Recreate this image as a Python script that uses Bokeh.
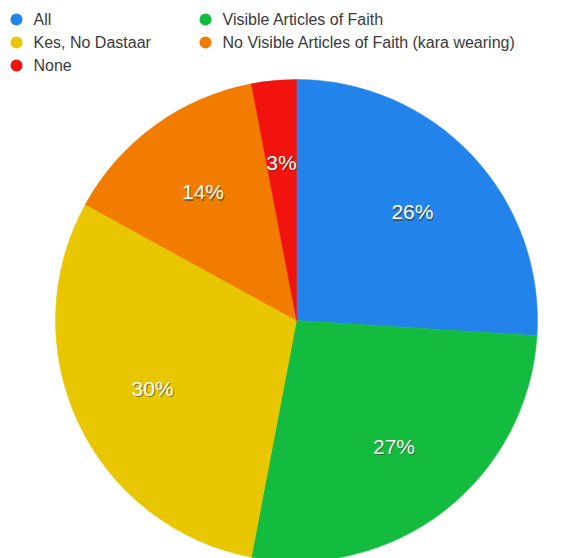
import numpy as np
from bokeh.plotting import figure
from bokeh.models import Range1d, ColumnDataSource
from bokeh.core.properties import value
from bokeh.embed import file_html
from bokeh.resources import INLINE

categories = ["All", "Visible Articles of Faith", "Kes, No Dastaar",
              "No Visible Articles of Faith (kara wearing)", "None"]
shares = [26, 27, 30, 14, 3]
labels = ["26%", "27%", "30%", "14%", "3%"]
colors = ["#2284ea", "#13bc3e", "#e8c600", "#f17c00", "#f2120e"]

W, H = 582, 558
p = figure(width=W, height=H, output_backend="svg", toolbar_location=None,
           x_range=Range1d(0, W), y_range=Range1d(0, H), min_border=0)
p.axis.visible = False
p.grid.visible = False
p.outline_line_color = None
p.background_fill_color = "white"

cx, cy, r = 296, H - 320, 241
vals = np.array(shares, dtype=float)
frac = vals / vals.sum()
cum = np.concatenate([[0], np.cumsum(frac)])
start = np.pi / 2 - cum[:-1] * 2 * np.pi
end = np.pi / 2 - cum[1:] * 2 * np.pi
mid = (start + end) / 2
src = ColumnDataSource(dict(start=start, end=end, color=colors,
                            lx=cx + 0.66 * r * np.cos(mid),
                            ly=cy + 0.66 * r * np.sin(mid),
                            label=labels))
p.wedge(x=cx, y=cy, radius=r, start_angle="start", end_angle="end",
        direction="clock", fill_color="color", line_color="color", line_width=0.5,
        source=src)

font = value("Liberation Sans")
src2 = ColumnDataSource(dict(lx=src.data["lx"] + 1, ly=src.data["ly"] - 1.5, label=labels))
p.text(x="lx", y="ly", text="label", source=src2, text_font=font, text_font_size="21px",
       text_color="#333333", text_alpha=0.55, text_align="center", text_baseline="middle")
p.text(x="lx", y="ly", text="label", source=src, text_font=font, text_font_size="21px",
       text_color="#fbfbf4", text_align="center", text_baseline="middle")

# legend
lx = [16, 205, 16, 205, 16]
ly = [H - 19, H - 19, H - 42, H - 42, H - 65]
leg = ColumnDataSource(dict(x=lx, y=ly, tx=[v + 17 for v in lx],
                            name=categories, color=colors))
p.scatter(x="x", y="y", source=leg, size=12, fill_color="color", line_color=None)
p.text(x="tx", y="y", text="name", source=leg, text_font=font, text_font_size="16px",
       text_color="#3a3a3a", text_baseline="middle")

open("out.html", "w").write(file_html(p, INLINE))
